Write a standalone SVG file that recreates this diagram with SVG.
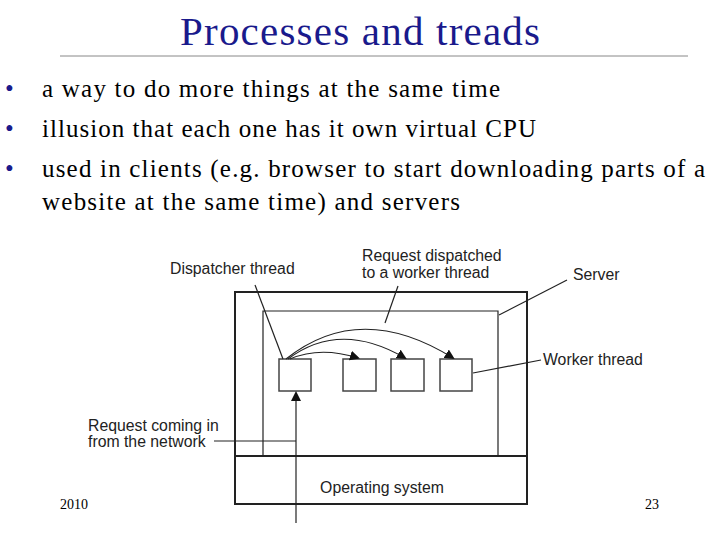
<svg xmlns="http://www.w3.org/2000/svg" width="720" height="540" viewBox="0 0 720 540">
<style>
.t{font-family:"Liberation Serif",serif;fill:#000}
.s{font-family:"Liberation Sans",Arial,sans-serif;font-size:15.8px;fill:#222}
.b{fill:none;stroke:#222;stroke-width:2}
.l{fill:none;stroke:#222;stroke-width:1.2}
.n{fill:#fff;stroke:#444;stroke-width:1.5}
</style>
<defs><marker id="a" markerWidth="10" markerHeight="10" refX="8" refY="5" orient="auto" markerUnits="userSpaceOnUse"><path d="M0,0L10,5L0,10z" fill="#111"/></marker></defs>
<rect width="720" height="540" fill="#fff"/>
<text class="t" x="180" y="45" font-size="41" textLength="360" lengthAdjust="spacing" style="fill:#1a1a8c">Processes and treads</text>
<line x1="60" y1="56" x2="688" y2="56" stroke="#888" stroke-width="1"/>
<g class="t" font-size="25">
<text x="5" y="97" style="fill:#1a1a8c">•</text><text x="42" y="97" textLength="458" lengthAdjust="spacing">a way to do more things at the same time</text>
<text x="5" y="137" style="fill:#1a1a8c">•</text><text x="42" y="137" textLength="494" lengthAdjust="spacing">illusion that each one has it own virtual CPU</text>
<text x="5" y="177" style="fill:#1a1a8c">•</text><text x="42" y="177" textLength="663" lengthAdjust="spacing">used in clients (e.g. browser to start downloading parts of a</text>
<text x="42" y="210" textLength="418" lengthAdjust="spacing">website at the same time) and servers</text>
</g>
<g id="server"><rect class="b" x="235" y="292" width="292" height="212"/><line class="b" x1="235" y1="456" x2="527" y2="456"/>
<text class="s" x="382" y="493" text-anchor="middle">Operating system</text></g>
<g id="process"><polyline class="l" points="263,456 263,311 498,311 498,456"/></g>
<g id="dispatcher"><rect class="n" x="279" y="359" width="32" height="32"/></g>
<g id="w1"><rect class="n" x="343" y="359" width="33" height="32"/></g>
<g id="w2"><rect class="n" x="391" y="359" width="33" height="32"/></g>
<g id="w3"><rect class="n" x="440" y="359" width="32" height="32"/></g>
<g id="connectors" class="l">
<path d="M290,359 Q320,346 358,358" marker-end="url(#a)"/>
<path d="M288,359 Q340,320 405,358" marker-end="url(#a)"/>
<path d="M286,359 Q360,300 453,358" marker-end="url(#a)"/>
<line x1="296" y1="523" x2="296" y2="393" marker-end="url(#a)"/>
<line x1="214" y1="441" x2="296" y2="441"/>
<line x1="255" y1="285" x2="283" y2="359"/>
<line x1="398" y1="286" x2="385" y2="323"/>
<line x1="567" y1="280" x2="499" y2="315"/>
<line x1="541" y1="360" x2="473" y2="373"/>
</g>
<g class="s">
<text x="170" y="274">Dispatcher thread</text>
<text x="362" y="261">Request dispatched</text>
<text x="362" y="278">to a worker thread</text>
<text x="573" y="280">Server</text>
<text x="543" y="365">Worker thread</text>
<text x="88" y="431">Request coming in</text>
<text x="88" y="447">from the network</text>
</g>
<text class="t" x="60" y="509" font-size="14">2010</text>
<text class="t" x="645" y="509" font-size="14">23</text>
</svg>
